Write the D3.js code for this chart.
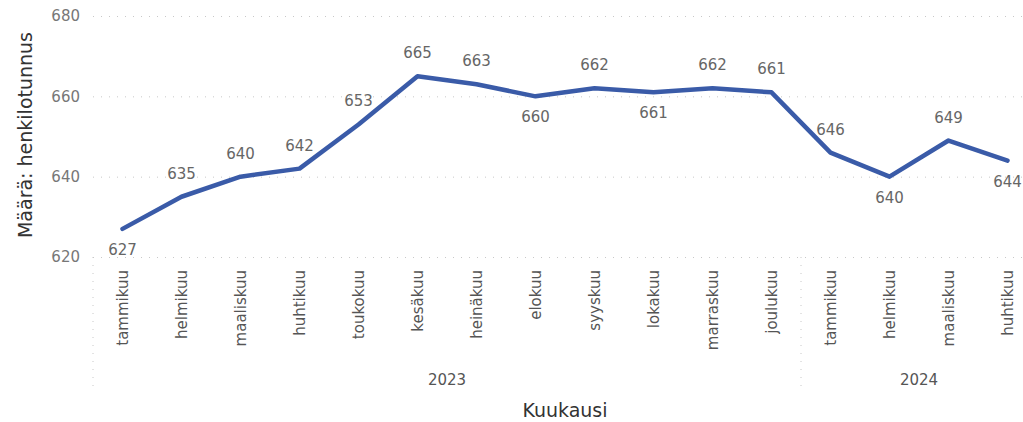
<!DOCTYPE html>
<html>
<head>
<meta charset="utf-8">
<script src="https://cdn.jsdelivr.net/npm/d3@7"></script>
<style>
  body { margin: 0; background: #fff; }
  svg { display: block; }
</style>
</head>
<body>
<div id="chart"></div>
<script>
// data
const months = ["tammikuu", "helmikuu", "maaliskuu", "huhtikuu", "toukokuu", "kesäkuu",
  "heinäkuu", "elokuu", "syyskuu", "lokakuu", "marraskuu", "joulukuu",
  "tammikuu", "helmikuu", "maaliskuu", "huhtikuu"];
const years = [2023, 2023, 2023, 2023, 2023, 2023, 2023, 2023, 2023, 2023, 2023, 2023,
  2024, 2024, 2024, 2024];
const values = [627, 635, 640, 642, 653, 665, 663, 660, 662, 661, 662, 661, 646, 640, 649, 644];
const yTicks = [620, 640, 660, 680];

const W = 1023, H = 422;
const plotLeft = 93, plotRight = 1037, plotTop = 16, plotBottom = 257;
const font = "'DejaVu Sans', sans-serif";

const svg = d3.select("#chart").append("svg")
  .attr("width", W)
  .attr("height", H);

const x = d3.scaleBand()
  .domain(d3.range(values.length))
  .range([plotLeft, plotRight])
  .padding(0);

const y = d3.scaleLinear()
  .domain([620, 680])
  .range([plotBottom, plotTop]);

const cx = i => x(i) + x.bandwidth() / 2;

// y axis + dotted grid
const yAxis = svg.append("g")
  .attr("transform", `translate(${plotLeft},0)`)
  .call(d3.axisLeft(y).tickValues(yTicks).tickSize(-(plotRight - plotLeft)).tickPadding(13));
yAxis.select(".domain").remove();
yAxis.selectAll(".tick line")
  .attr("stroke", "#c8c8c8")
  .attr("stroke-dasharray", "1,7");
yAxis.selectAll(".tick text")
  .attr("fill", "#777")
  .style("font-family", font)
  .style("font-size", "15px");

// x axis (months rotated)
const xAxis = svg.append("g")
  .attr("transform", `translate(0,${plotBottom})`)
  .call(d3.axisBottom(x).tickSize(0).tickFormat(i => months[i]));
xAxis.select(".domain").remove();
xAxis.selectAll(".tick text")
  .attr("fill", "#555")
  .style("font-family", font)
  .style("font-size", "15px")
  .attr("text-anchor", "end")
  .attr("transform", "rotate(-90)")
  .attr("x", -13)
  .attr("y", 0)
  .attr("dy", "0.35em");

// year groups
const yearGroups = d3.groups(d3.range(values.length), i => years[i]);
const sepBottom = 392;

svg.append("line")
  .attr("x1", plotLeft).attr("x2", plotLeft)
  .attr("y1", plotBottom).attr("y2", sepBottom)
  .attr("stroke", "#c8c8c8")
  .attr("stroke-dasharray", "1,7");

yearGroups.forEach(([yr, idx], k) => {
  const x0 = x(idx[0]);
  const x1 = x(idx[idx.length - 1]) + x.bandwidth();
  if (k > 0) {
    svg.append("line")
      .attr("x1", x0).attr("x2", x0)
      .attr("y1", plotBottom).attr("y2", sepBottom)
      .attr("stroke", "#c8c8c8")
      .attr("stroke-dasharray", "1,7");
  }
  svg.append("text")
    .attr("x", (x0 + x1) / 2)
    .attr("y", 385)
    .attr("text-anchor", "middle")
    .attr("fill", "#555")
    .style("font-family", font)
    .style("font-size", "15px")
    .text(yr);
});

// axis titles
svg.append("text")
  .attr("x", (plotLeft + plotRight) / 2)
  .attr("y", 417)
  .attr("text-anchor", "middle")
  .attr("fill", "#333")
  .style("font-family", font)
  .style("font-size", "19px")
  .text("Kuukausi");

svg.append("text")
  .attr("transform", "rotate(-90)")
  .attr("x", -135)
  .attr("y", 32)
  .attr("text-anchor", "middle")
  .attr("fill", "#333")
  .style("font-family", font)
  .style("font-size", "19px")
  .text("Määrä: henkilotunnus");

// the line
const line = d3.line()
  .x((d, i) => cx(i))
  .y(d => y(d));

svg.append("path")
  .datum(values)
  .attr("d", line)
  .attr("fill", "none")
  .attr("stroke", "#3a5ba8")
  .attr("stroke-width", 4.5)
  .attr("stroke-linejoin", "round")
  .attr("stroke-linecap", "round");

// data labels: below when the point is a local low
function isLow(i) {
  const v = values[i];
  const prev = i > 0 ? values[i - 1] : Infinity;
  const next = i < values.length - 1 ? values[i + 1] : Infinity;
  return v <= prev && v <= next;
}

svg.selectAll(".value-label")
  .data(values)
  .join("text")
  .attr("class", "value-label")
  .attr("x", (d, i) => cx(i))
  .attr("y", (d, i) => isLow(i) ? y(d) + 26 : y(d) - 18)
  .attr("text-anchor", "middle")
  .attr("fill", "#666")
  .style("font-family", font)
  .style("font-size", "15px")
  .text(d => d);
</script>
</body>
</html>
